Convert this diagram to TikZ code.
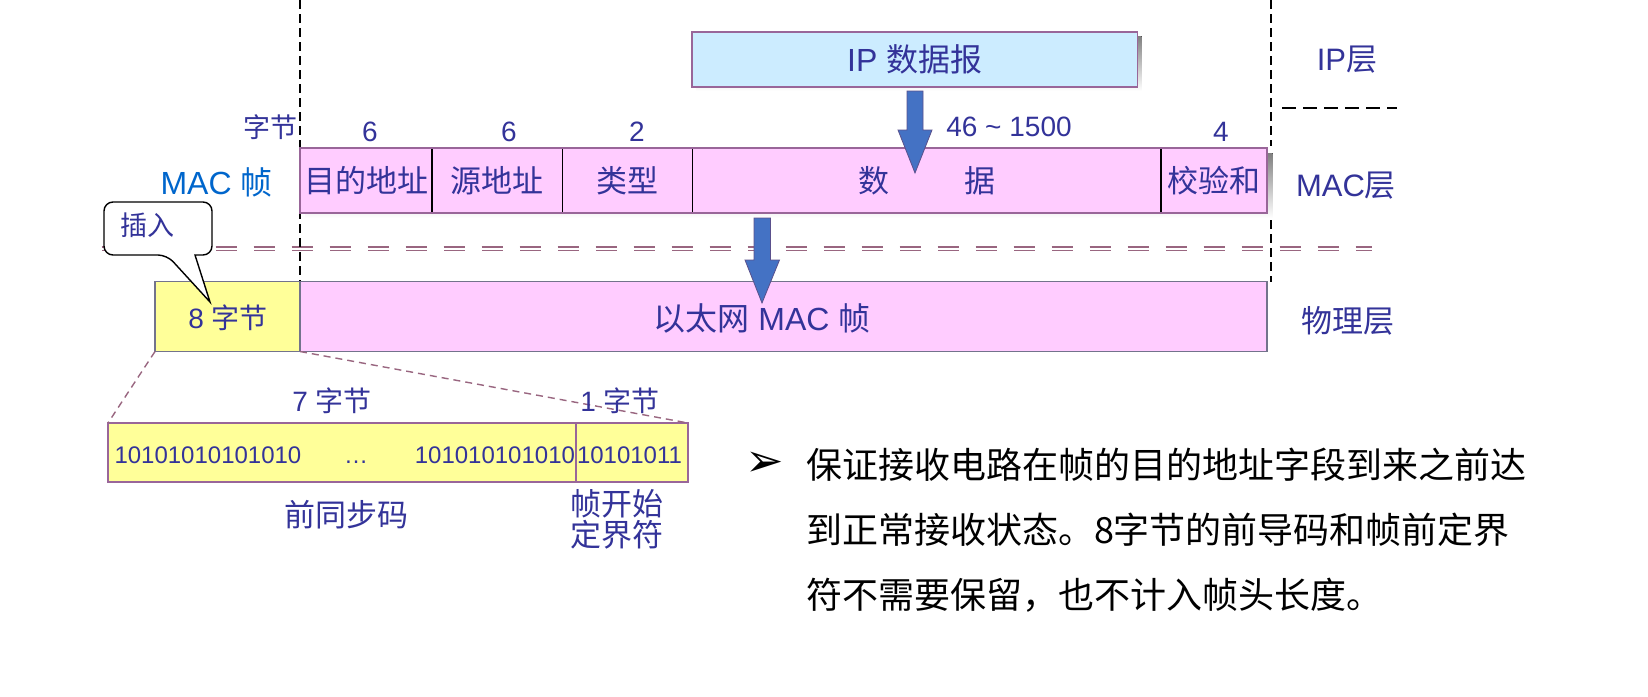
\documentclass[tikz,border=0pt]{standalone}
\usepackage{fontspec}
\setmainfont{Liberation Sans}
\newfontfamily\cjk{Noto Sans CJK SC}
\newfontfamily\dvs{DejaVu Sans}
\definecolor{txt}{RGB}{51,51,153}
\definecolor{macblue}{RGB}{0,102,204}
\definecolor{pinkf}{RGB}{255,204,255}
\definecolor{bluef}{RGB}{204,236,255}
\definecolor{yellowf}{RGB}{255,255,153}
\definecolor{arrowf}{RGB}{68,114,196}
\definecolor{arrowb}{RGB}{90,80,140}
\definecolor{frameb}{RGB}{153,102,153}
\definecolor{greyb}{RGB}{115,115,140}
\definecolor{mauve}{RGB}{153,102,128}
\definecolor{shade}{RGB}{226,226,226}
\newcommand{\fs}[1]{\fontsize{#1}{#1}\selectfont}
\begin{document}
\begin{tikzpicture}[x=1pt,y=-1pt,
  every node/.style={inner sep=0pt, outer sep=0pt},
  lbl/.style={text=txt},
  cell/.style={draw=black, line width=1.2pt, fill=pinkf, minimum height=65pt,
    anchor=north west, text=txt, font=\cjk\fs{31}},
  blockarrow/.style={fill=arrowf, draw=arrowb, line width=0.8pt},
  dbl/.style={draw=mauve, line width=1.8pt, double=white, double distance=2pt,
    dash pattern=on 21pt off 17pt},
  vdash/.style={draw=black, line width=1.3pt, dash pattern=on 9pt off 5pt},
  hdash/.style={draw=black, line width=1.5pt, dash pattern=on 14pt off 7pt},
  mdash/.style={draw=mauve, line width=1.4pt, dash pattern=on 7pt off 5pt},
  calloutbox/.style={draw=black, fill=white, line width=1.4pt}
]
\useasboundingbox (0,0) rectangle (1648,696);
\fill[white] (0,0) rectangle (1648,696);

% ---- IP datagram ----
\fill[shade] (696,36) rectangle (1141.5,91);
\node[draw=frameb, fill=bluef, line width=1.4pt, minimum width=445.5pt,
  minimum height=55pt, anchor=north west, text=txt, font=\fs{32}] (ip) at (692,32)
  {IP {\cjk 数据报}};

% ---- layer separators ----
\draw[dbl] (101.6,248.5) -- (1372,248.5);
\draw[vdash] (300,0) -- (300,282);
\draw[vdash] (1271,0) -- (1271,146);
\draw[vdash] (1271,220) -- (1271,282);
\draw[hdash] (1282,108) -- (1397,108);

% ---- MAC frame ----
\fill[shade] (305,153) rectangle (1272.5,218);
\node[cell, minimum width=132pt] (c1) at (300,148) {目的地址};
\node[cell, minimum width=130.5pt] (c2) at (432,148) {源地址};
\node[cell, minimum width=130pt] (c3) at (562.5,148) {类型};
\node[cell, minimum width=468.5pt] (c4) at (692.5,148) {数\hspace{75pt}据};
\node[cell, minimum width=106pt] (c5) at (1161,148) {校验和};
\draw[frameb, line width=1.6pt] (c1.north west) rectangle (c5.south east);

% byte counts
\node[lbl, font=\cjk\fs{27}] (zj) at (270,127.5) {字节};
\node[lbl, font=\fs{28}] (n1) at (370,132) {6};
\node[lbl, font=\fs{28}] (n2) at (509,132) {6};
\node[lbl, font=\fs{28}] (n3) at (637,132) {2};
\node[lbl, font=\fs{28}] (n4) at (1009,127) {46 {\char"7E} 1500};
\node[lbl, font=\fs{28}] (n5) at (1221,132) {4};

\node[text=macblue, font=\fs{32}] (macf) at (216.5,182) {MAC {\cjk 帧}};

% right side layer labels
\node[lbl, font=\fs{31}] (ipl) at (1347,59.5) {IP{\cjk 层}};
\node[lbl, font=\fs{31}] (macl) at (1346,186) {MAC{\cjk 层}};
\node[lbl, font=\cjk\fs{31}] (phyl) at (1348,321) {物理层};

% ---- physical layer ----
\node[draw=greyb, fill=yellowf, line width=1.3pt, minimum width=145pt,
  minimum height=70pt, anchor=north west] (pre) at (155,281.5) {};
\node[lbl, font=\fs{28}] (prel) at (228,318) {8 {\cjk 字节}};
\node[draw=greyb, fill=pinkf, line width=1.3pt, minimum width=967pt,
  minimum height=70pt, anchor=north west] (eth) at (300,281.5) {};
\node[lbl, font=\fs{32}] (ethl) at (762,318) {{\cjk 以太网} MAC {\cjk 帧}};

% ---- callout ----
\draw[calloutbox] (158,202) [rounded corners=9pt] -- (104,202) -- (104,255)
  -- (167,255) [sharp corners] -- (210,302) -- (195,255) [rounded corners=9pt]
  -- (212,255) -- (212,202) -- cycle;
\node[lbl, font=\cjk\fs{27}] (ins) at (147,225) {插入};

% ---- block arrows ----
\draw[blockarrow] (907,91) -- (923,91) -- (923,130) -- (932,130) -- (915,173)
  -- (898,130) -- (907,130) -- cycle;
\draw[blockarrow] (754,218) -- (770.5,218) -- (770.5,260) -- (779.5,260)
  -- (762,303) -- (745,260) -- (754,260) -- cycle;

% ---- preamble detail ----
\node[draw=frameb, fill=yellowf, line width=1.3pt, minimum width=468pt,
  minimum height=59pt, anchor=north west] (p7) at (108,423) {};
\node[draw=frameb, fill=yellowf, line width=1.3pt, minimum width=112pt,
  minimum height=59pt, anchor=north west] (p1) at (576,423) {};
\draw[mdash] (pre.south west) -- (p7.north west);
\draw[mdash] (pre.south east) -- (p1.north east);

\node[lbl, font=\fs{24}, anchor=base west] (b1) at (114.5,463.5) {10101010101010};
\node[lbl, font=\fs{24}, anchor=base] (b2) at (356,463.5) {…};
\node[lbl, font=\fs{24}, anchor=base east] (b3) at (575,463.5) {101010101010};
\node[lbl, font=\fs{24}, anchor=base west] (b4) at (577,463.5) {10101011};

\node[lbl, font=\fs{28}] (s7) at (332,401) {7 {\cjk 字节}};
\node[lbl, font=\fs{28}] (s1) at (620,401) {1 {\cjk 字节}};
\node[lbl, font=\cjk\fs{31}] (pres) at (346,515) {前同步码};
\node[lbl, font=\cjk\fs{31}, align=center] (sfd) at (617,519)
  {\fontsize{31}{32}\selectfont 帧开始\\定界符};

% ---- bullet text ----
\node[font=\dvs\fs{46}] (bul) at (765,464) {➢};
\node[font=\cjk\fs{36}, anchor=base west] (t1) at (806,478) {保证接收电路在帧的目的地址字段到来之前达};
\node[font=\cjk\fs{36}, anchor=base west] (t2) at (806,543) {到正常接收状态。8字节的前导码和帧前定界};
\node[font=\cjk\fs{36}, anchor=base west] (t3) at (806,608) {符不需要保留，也不计入帧头长度。};
\end{tikzpicture}
\end{document}
